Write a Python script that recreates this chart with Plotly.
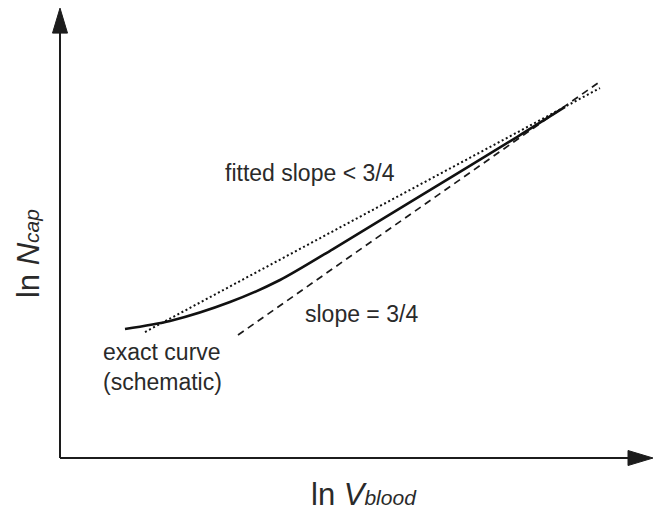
import plotly.graph_objects as go

# ---- data (schematic, arbitrary log units) ----
curve_x = [0.65, 1.10, 1.70, 2.20, 2.73, 3.60, 4.57, 5.05]
curve_y = [1.382, 1.468, 1.671, 1.907, 2.239, 2.807, 3.439, 3.761]

slope34_x = [1.78, 5.38]
slope34_y = [1.318, 4.018]

fitted_x = [0.85, 5.40]
fitted_y = [1.350, 3.964]

# axis extents (data units)
X_TIP = 5.93
Y_TIP = 4.82
X_RANGE = [-0.60, 5.95]
Y_RANGE = [-0.589, 4.907]

INK = "#1c1c1c"
TXT = "#2a2a2a"
FONT = "Liberation Sans, Arial, Helvetica, sans-serif"

fig = go.Figure()

fig.add_trace(go.Scatter(x=fitted_x, y=fitted_y, mode="lines",
                         line=dict(color="#111111", width=2.0, dash="2px,2.6px"),
                         hoverinfo="skip"))
fig.add_trace(go.Scatter(x=slope34_x, y=slope34_y, mode="lines",
                         line=dict(color="#1a1a1a", width=1.7, dash="7px,5px"),
                         hoverinfo="skip"))
fig.add_trace(go.Scatter(x=curve_x, y=curve_y, mode="lines",
                         line=dict(color="#111111", width=2.6, shape="spline", smoothing=0.8),
                         hoverinfo="skip"))

# axes with arrowheads
px_x = (X_RANGE[1] - X_RANGE[0]) / 655.0
px_y = (Y_RANGE[1] - Y_RANGE[0]) / 513.0
head_len_x = 25 * px_x
head_half_y = 7.5 * px_y
head_len_y = 25 * px_y
head_half_x = 7.5 * px_x

fig.add_shape(type="line", x0=0, y0=0, x1=X_TIP - head_len_x + 2 * px_x, y1=0,
              line=dict(color=INK, width=2))
fig.add_shape(type="line", x0=0, y0=0, x1=0, y1=Y_TIP - head_len_y + 2 * px_y,
              line=dict(color=INK, width=2))
fig.add_shape(type="path",
              path=f"M {X_TIP - head_len_x} {-head_half_y} L {X_TIP} 0 L {X_TIP - head_len_x} {head_half_y} Z",
              fillcolor=INK, line=dict(color=INK, width=1))
fig.add_shape(type="path",
              path=f"M {-head_half_x} {Y_TIP - head_len_y} L 0 {Y_TIP} L {head_half_x} {Y_TIP - head_len_y} Z",
              fillcolor=INK, line=dict(color=INK, width=1))

# text labels
fig.add_annotation(x=2.50, y=3.054, text="fitted slope &lt; 3/4", showarrow=False,
                   font=dict(family=FONT, size=23, color=TXT))
fig.add_annotation(x=3.01, y=1.543, text="slope = 3/4", showarrow=False,
                   font=dict(family=FONT, size=23, color=TXT))
fig.add_annotation(x=0.405, y=0.975, text="exact curve<br>(schematic)", showarrow=False,
                   xanchor="left", align="left",
                   font=dict(family=FONT, size=23, color=TXT))
fig.add_annotation(x=3.04, y=-0.39,
                   text="ln <i>V<span style='font-size:21px'>blood</span></i>",
                   showarrow=False,
                   font=dict(family=FONT, size=31, color=TXT))
fig.add_annotation(x=-0.315, y=2.19,
                   text="ln <i>N<span style='font-size:21px'>cap</span></i>",
                   showarrow=False, textangle=-90,
                   font=dict(family=FONT, size=31, color=TXT))

fig.update_layout(
    width=655, height=513,
    margin=dict(l=0, r=0, t=0, b=0),
    paper_bgcolor="white", plot_bgcolor="white",
    showlegend=False,
    xaxis=dict(range=X_RANGE, visible=False, fixedrange=True),
    yaxis=dict(range=Y_RANGE, visible=False, fixedrange=True),
)

fig.write_html("out.html", config={"displayModeBar": False},
               post_script="document.body.style.margin='0';document.body.style.overflow='hidden';")
